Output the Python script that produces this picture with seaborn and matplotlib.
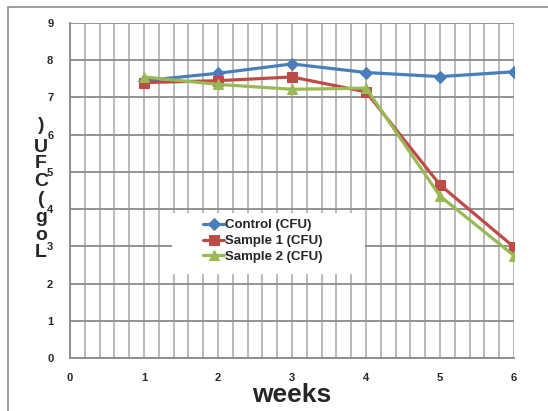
import pandas as pd
import seaborn as sns
from matplotlib import pyplot as plt
from matplotlib.patches import Rectangle
from matplotlib.ticker import MultipleLocator

# Data
weeks = [1, 2, 3, 4, 5, 6]
control = [7.45, 7.65, 7.9, 7.67, 7.56, 7.69]
sample1 = [7.4, 7.45, 7.55, 7.15, 4.65, 2.98]
sample2 = [7.55, 7.35, 7.22, 7.25, 4.35, 2.75]
series_names = ["Control (CFU)", "Sample 1 (CFU)", "Sample 2 (CFU)"]
colors = ["#4A7EBB", "#BE4B48", "#98B954"]
markers = ["D", "s", "^"]

df = pd.DataFrame({"week": weeks * 3,
                   "value": control + sample1 + sample2,
                   "series": [n for n in series_names for _ in weeks]})

sns.set_style("white")
plt.rcParams['font.family'] = ['Liberation Sans', 'DejaVu Sans']

fig = plt.figure(figsize=(5.48, 4.11), dpi=100)
ax = fig.add_axes([70 / 548, 1 - 358 / 411, 444 / 548, 335 / 411])

# outer chart border (right and bottom edges fall outside the image)
fig.patches.append(Rectangle((8 / 548, -0.05), 1.1, 1 - 7 / 411 + 0.05,
                             transform=fig.transFigure, fill=False,
                             edgecolor="#8c8c8c", linewidth=1.2))

for name, color, mk in zip(series_names, colors, markers):
    sns.lineplot(data=df[df["series"] == name], x="week", y="value", ax=ax,
                 color=color, marker=mk, markersize=7.5 if mk != "D" else 6.5,
                 markeredgecolor=color, linewidth=2.3, label=name)

ax.set_xlim(0, 6)
ax.set_ylim(0, 9)
ax.xaxis.set_major_locator(MultipleLocator(1))
ax.xaxis.set_minor_locator(MultipleLocator(0.2))
ax.yaxis.set_major_locator(MultipleLocator(1))
ax.grid(which="major", axis="y", color="#8a8a8a", linewidth=1.3)
ax.grid(which="both", axis="x", color="#b4b4b4", linewidth=1.3)
ax.set_axisbelow(True)
for s in ["top", "right"]:
    ax.spines[s].set_visible(False)
for s in ["left", "bottom"]:
    ax.spines[s].set_color("#8a8a8a")
    ax.spines[s].set_linewidth(1.3)
ax.tick_params(axis="both", which="major", length=5, width=1.3, color="#8a8a8a",
               labelsize=8, direction="out")
ax.tick_params(axis="x", which="major", pad=6)
ax.tick_params(axis="y", which="major", pad=7)
ax.tick_params(axis="x", which="minor", length=0)
for lbl in ax.get_xticklabels() + ax.get_yticklabels():
    lbl.set_fontweight("bold")

ax.set_xlabel("weeks", fontsize=19, fontweight="bold", labelpad=0)
ax.set_ylabel("")

# stacked y-axis label characters
chars = ["L", "o", "g", "(", "C", "F", "U", ")"]
ypix = [252, 235, 217, 199, 181, 164, 147, 125]
for ch, yp in zip(chars, ypix):
    fig.text(41 / 548, 1 - yp / 411, ch, fontsize=14, fontweight="bold",
             ha="center", va="center")

# white legend area that hides the gridlines
ax.add_patch(Rectangle(((172 - 70) / 444, (358 - 274) / 335), 193 / 444, 61 / 335,
                       transform=ax.transAxes, facecolor="white", edgecolor="none",
                       zorder=1.5))
leg = ax.legend(loc="upper left", bbox_to_anchor=((203 - 70) / 444, (358 - 219) / 335),
                frameon=False, prop={"size": 9.5, "weight": "bold"}, handlelength=1.6,
                handletextpad=0.1, borderpad=0, labelspacing=0.28, borderaxespad=0)

fig.savefig("out.png", dpi=100)
